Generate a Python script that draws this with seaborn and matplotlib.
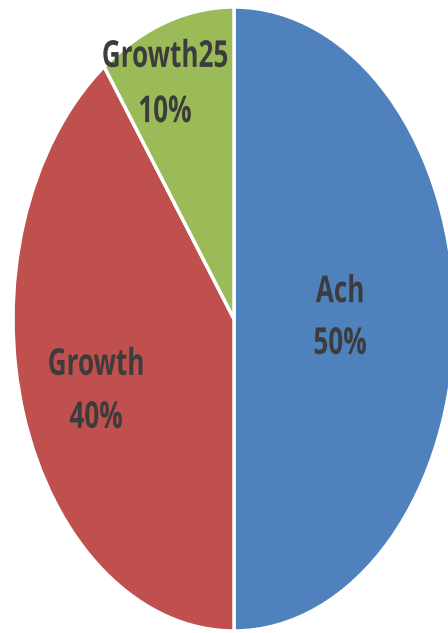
import matplotlib
matplotlib.use("Agg")
import matplotlib.pyplot as plt
import seaborn as sns
from matplotlib.patheffects import AbstractPathEffect
from matplotlib.transforms import Affine2D

sns.set_style("white")
plt.rcParams["font.family"] = ["Open Sans", "DejaVu Sans"]

categories = ["Ach", "Growth", "Growth25"]
shares = [50, 40, 10]
colors = ["#4F81BD", "#C0504D", "#9BBB59"]


class VStretch(AbstractPathEffect):
    """Draw glyphs taller than wide, stretched upward from each line's baseline."""

    def __init__(self, sy):
        super().__init__()
        self._sy = sy

    def draw_path(self, renderer, gc, tpath, affine, rgbFace=None):
        m = affine.get_matrix()
        x0, y0 = m[0, 2], m[1, 2]
        stretch = Affine2D().translate(-x0, -y0).scale(1, self._sy).translate(x0, y0)
        renderer.draw_path(gc, tpath, affine + stretch, rgbFace)


W, H = 448, 633
fig = plt.figure(figsize=(W / 100, H / 100), dpi=100)
# the pie is an ellipse that runs slightly past the right edge of the canvas
left, right, top, bottom = 13, 455, 7, 631
ax = fig.add_axes([left / W, 1 - bottom / H, (right - left) / W, (bottom - top) / H])

wedges, texts = ax.pie(
    shares,
    colors=colors,
    startangle=90,
    counterclock=False,
    wedgeprops=dict(edgecolor="white", linewidth=2.5),
)
ax.set_aspect("auto")
ax.set_xlim(-1, 1)
ax.set_ylim(-1, 1)
ax.axis("off")

# label anchor (x, baseline of name, baseline of percentage) for each slice
label_pos = [(0.48, 0.054, -0.112), (-0.624, -0.179, -0.349), (-0.312, 0.808, 0.631)]
style = dict(ha="center", va="baseline", fontsize=18.8, fontweight="bold",
             color="#3c3c3c", path_effects=[VStretch(1.42)])
for name, val, (x, y1, y2) in zip(categories, shares, label_pos):
    ax.text(x, y1, name, **style)
    ax.text(x, y2, f"{val}%", **style)

fig.savefig("out.png", dpi=100)
